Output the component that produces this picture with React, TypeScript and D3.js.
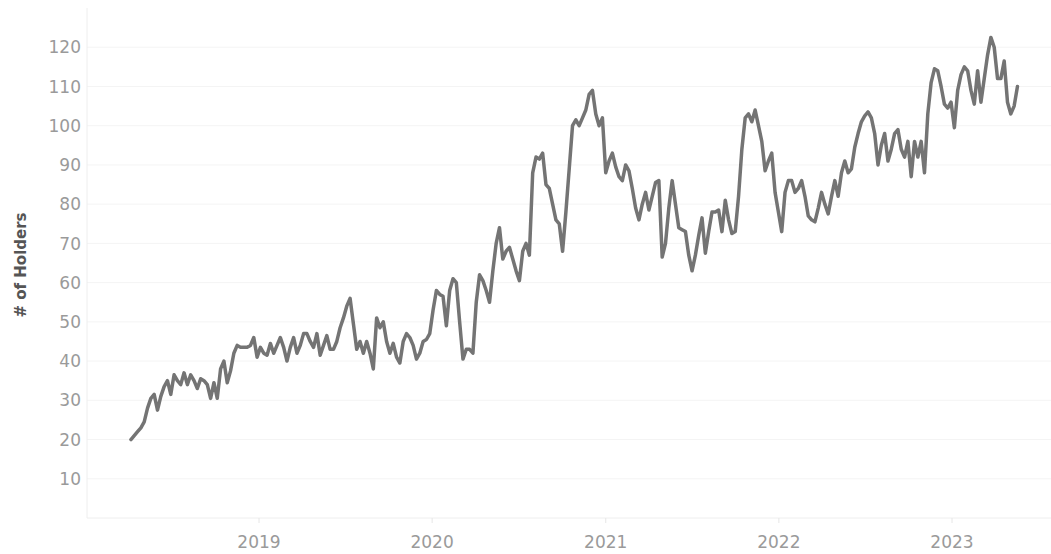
import { useEffect, useRef } from "react";
import * as d3 from "d3";

// weekly holder counts, first week starting 2018-04-06
const startDate = new Date(2018, 3, 6);
const holders = [
  20, 21, 22, 23, 24.5, 28, 30.5, 31.5, 27.5, 31, 33.5, 35, 31.5, 36.5, 35, 34,
  37, 34, 36.5, 35, 33, 35.5, 35, 34, 30.5, 34.5, 30.5, 38, 40, 34.5, 37.5, 42,
  44, 43.5, 43.5, 43.5, 44, 46, 41, 43.5, 42, 41.5, 44.5, 42, 44, 46, 43.5, 40,
  43.5, 46, 42, 44, 47, 47, 45, 43.5, 47, 41.5, 44, 46.5, 43, 43, 45, 48.5, 51,
  54, 56, 49.5, 43, 45, 42, 45, 42, 38, 51, 48.5, 50, 45, 42, 44.5, 41, 39.5,
  45, 47, 46, 44, 40.5, 42, 45, 45.5, 47, 53, 58, 57, 56.5, 49, 58, 61, 60, 50,
  40.5, 43, 43, 42, 55, 62, 60.5, 58, 55, 63, 70, 74, 66, 68, 69, 66, 63, 60.5,
  68, 70, 67, 88, 92, 91.5, 93, 85, 84, 80, 76, 75, 68, 78, 89, 100, 101.5, 100,
  102, 104, 108, 109, 103, 100, 102, 88, 91, 93, 89.5, 87, 86, 90, 88.5, 84, 79,
  76, 80, 83, 78.5, 82, 85.5, 86, 66.5, 70, 79, 86, 80, 74, 73.5, 73, 67, 63, 67,
  72, 76.5, 67.5, 73, 78, 78, 78.5, 73, 81, 76, 72.5, 73, 82, 94, 102, 103, 101,
  104, 100, 96, 88.5, 91, 93, 83, 78, 73, 83, 86, 86, 83, 84, 86, 82, 77, 76,
  75.5, 79, 83, 80, 77.5, 82, 86, 82, 88, 91, 88, 89, 94.5, 98, 101, 102.5,
  103.5, 102, 98, 90, 95, 98, 91, 94, 98, 99, 94, 92, 96, 87, 96, 92, 96, 88,
  103, 111, 114.5, 114, 110, 105.5, 104.5, 106, 99.5, 109, 113, 115, 114, 109,
  105.5, 114, 106, 112, 118, 122.5, 120, 112, 112, 116.5, 106, 103, 105, 110,
];
const yTicks = [10, 20, 30, 40, 50, 60, 70, 80, 90, 100, 110, 120];
const yearTicks = [2019, 2020, 2021, 2022, 2023];
const yLabel = "# of Holders";

const width = 1051;
const height = 554;
const font = "'DejaVu Sans', sans-serif";

export default function App() {
  const svgRef = useRef<SVGSVGElement>(null);

  useEffect(() => {
    if (!svgRef.current) return;
    const svg = d3.select(svgRef.current);
    svg.selectAll("*").remove();

    const data = holders.map((v, i) => ({
      date: d3.timeDay.offset(startDate, i * 7),
      value: v,
    }));

    const left = 87;
    const bottom = 518;
    const top = 8;

    const x = d3
      .scaleTime()
      .domain([new Date(2019, 0, 1), new Date(2023, 0, 1)])
      .range([259, 952]);
    const y = d3.scaleLinear().domain([0, 130]).range([bottom, top]);

    // gridlines
    svg
      .append("g")
      .selectAll("line")
      .data(yTicks)
      .join("line")
      .attr("x1", left)
      .attr("x2", width)
      .attr("y1", (d) => y(d))
      .attr("y2", (d) => y(d))
      .attr("stroke", "#f4f4f4")
      .attr("stroke-width", 1);

    // axis frame
    svg
      .append("line")
      .attr("x1", left)
      .attr("x2", left)
      .attr("y1", top)
      .attr("y2", bottom)
      .attr("stroke", "#eeeeee");
    svg
      .append("line")
      .attr("x1", left)
      .attr("x2", width)
      .attr("y1", bottom)
      .attr("y2", bottom)
      .attr("stroke", "#eeeeee");

    // y tick labels
    svg
      .append("g")
      .selectAll("text")
      .data(yTicks)
      .join("text")
      .attr("x", 81)
      .attr("y", (d) => y(d))
      .attr("dy", "0.36em")
      .attr("text-anchor", "end")
      .attr("font-family", font)
      .attr("font-size", 17)
      .attr("fill", "#9a9a9a")
      .text((d) => d);

    // x ticks and labels
    const xg = svg.append("g");
    xg.selectAll("line")
      .data(yearTicks)
      .join("line")
      .attr("x1", (d) => x(new Date(d, 0, 1)))
      .attr("x2", (d) => x(new Date(d, 0, 1)))
      .attr("y1", bottom)
      .attr("y2", bottom + 5)
      .attr("stroke", "#e6e6e6");
    xg.selectAll("text")
      .data(yearTicks)
      .join("text")
      .attr("x", (d) => x(new Date(d, 0, 1)))
      .attr("y", 548)
      .attr("text-anchor", "middle")
      .attr("font-family", font)
      .attr("font-size", 17)
      .attr("fill", "#9a9a9a")
      .text((d) => d);

    // y axis title
    svg
      .append("text")
      .attr("transform", "translate(26,265) rotate(-90)")
      .attr("text-anchor", "middle")
      .attr("font-family", font)
      .attr("font-size", 15)
      .attr("font-weight", "bold")
      .attr("fill", "#555555")
      .text(yLabel);

    const line = d3
      .line<{ date: Date; value: number }>()
      .x((d) => x(d.date))
      .y((d) => y(d.value));

    svg
      .append("path")
      .datum(data)
      .attr("d", line)
      .attr("fill", "none")
      .attr("stroke", "#747474")
      .attr("stroke-width", 3.5)
      .attr("stroke-linejoin", "round")
      .attr("stroke-linecap", "round");
  }, []);

  return (
    <svg
      ref={svgRef}
      width={width}
      height={height}
      style={{ position: "absolute", left: 0, top: 0, background: "#fff" }}
    />
  );
}
